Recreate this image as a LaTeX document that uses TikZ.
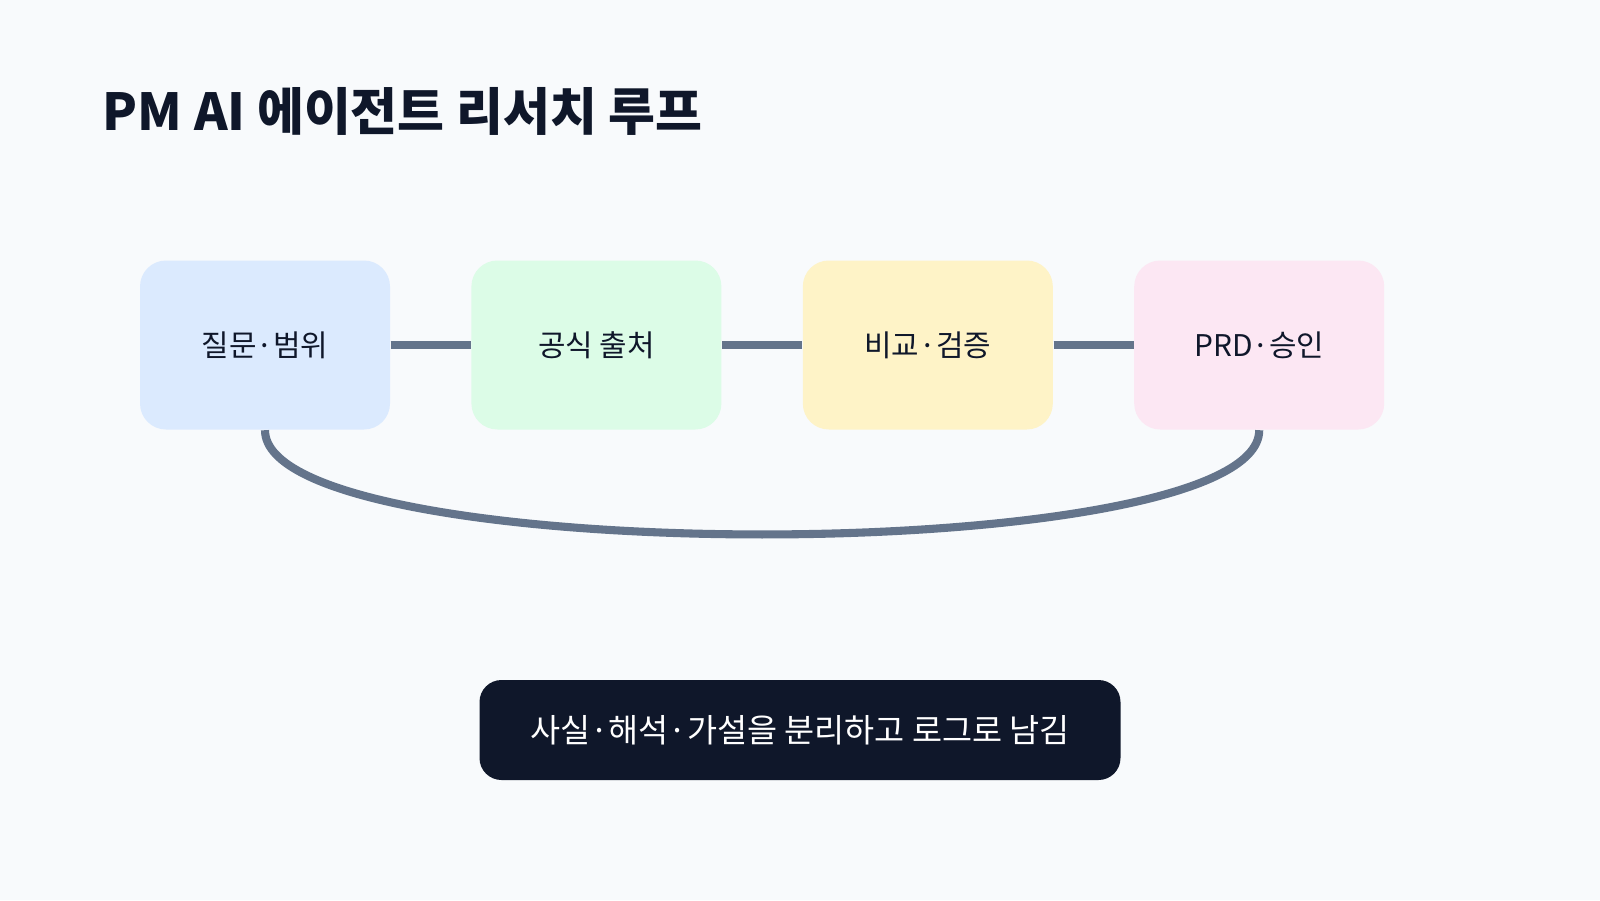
\documentclass[tikz,border=0pt]{standalone}
\usepackage{fontspec}
\setmainfont{Noto Sans CJK KR}
\usetikzlibrary{positioning}
\definecolor{bgcol}{HTML}{F8FAFC}
\definecolor{inkcol}{HTML}{0F172A}
\definecolor{linkcol}{HTML}{64748B}
\definecolor{bluebox}{HTML}{DBEAFE}
\definecolor{greenbox}{HTML}{DCFCE7}
\definecolor{yellowbox}{HTML}{FEF3C7}
\definecolor{pinkbox}{HTML}{FCE7F3}
\tikzset{
  stage/.style={rounded corners=0.26cm, minimum width=2.5cm, minimum height=1.69cm, text=inkcol, font=\fontsize{8.5pt}{10pt}\selectfont},
  link/.style={draw=linkcol, line width=2.3pt}
}

\begin{document}
\begin{tikzpicture}
    \fill[bgcol] (0,0) rectangle (16,9);
    \useasboundingbox (0,0) rectangle (16,9);

    \node (title) [anchor=base west, text=inkcol, font=\fontsize{14.5pt}{17pt}\selectfont\bfseries, inner sep=0pt] at (1.02,7.69) {PM AI 에이전트 리서치 루프};

    \node (ask) [stage, fill=bluebox] at (2.65,5.55) {질문·범위};
    \node (source) [stage, fill=greenbox, right=0.8cm of ask] {공식 출처};
    \node (check) [stage, fill=yellowbox, right=0.8cm of source] {비교·검증};
    \node (prd) [stage, fill=pinkbox, right=0.8cm of check] {PRD·승인};

    \draw [link] (ask) -- (source);
    \draw [link] (source) -- (check);
    \draw [link] (check) -- (prd);
    \draw [link] (ask.south) .. controls ([yshift=-1.39cm]ask.south) and ([yshift=-1.39cm]prd.south) .. (prd.south);

    \node (note) [fill=inkcol, rounded corners=0.22cm, minimum width=6.41cm, minimum height=1cm, text=white, font=\fontsize{9.3pt}{11pt}\selectfont] at (8,1.70) {사실·해석·가설을 분리하고 로그로 남김};
\end{tikzpicture}
\end{document}
